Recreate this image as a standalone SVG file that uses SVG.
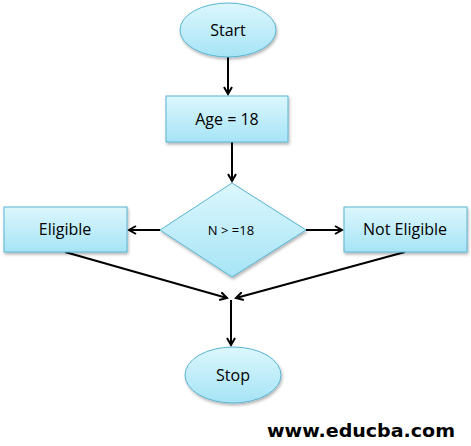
<svg xmlns="http://www.w3.org/2000/svg" width="471" height="446" viewBox="0 0 471 446">
<defs>
<linearGradient id="g" x1="0" y1="0" x2="0" y2="1">
<stop offset="0" stop-color="#dcf7fd"/>
<stop offset="1" stop-color="#a6e4f6"/>
</linearGradient>
<filter id="sh" x="-20%" y="-20%" width="140%" height="150%">
<feDropShadow dx="1" dy="2" stdDeviation="1.5" flood-color="#000" flood-opacity="0.3"/>
</filter>
<marker id="arr" markerWidth="10" markerHeight="10" refX="8" refY="5" orient="auto" markerUnits="userSpaceOnUse">
<path d="M1,1 L8,5 L1,9" fill="none" stroke="#000" stroke-width="2"/>
</marker>
</defs>
<style>
.n{fill:url(#g);stroke:#5ab4d2;stroke-width:1;filter:url(#sh)}
.t{font-family:"Open Sans","Liberation Sans",sans-serif;font-size:16px;fill:#000;text-anchor:middle;dominant-baseline:central}
.c{stroke:#000;stroke-width:2;fill:none;marker-end:url(#arr)}
</style>
<rect width="471" height="446" fill="#fff"/>
<g id="connectors">
<line class="c" x1="228" y1="57" x2="228" y2="94"/>
<line class="c" x1="232" y1="142" x2="232" y2="181"/>
<line class="c" x1="160" y1="230" x2="129" y2="230"/>
<line class="c" x1="306" y1="230" x2="342" y2="230"/>
<line class="c" x1="65" y1="252" x2="227" y2="298"/>
<line class="c" x1="405" y1="252" x2="236" y2="298"/>
<line class="c" x1="231" y1="300" x2="231" y2="345"/>
</g>
<g id="start">
<ellipse class="n" cx="228" cy="30" rx="48" ry="27"/>
<text class="t" x="228" y="30">Start</text>
</g>
<g id="age">
<rect class="n" x="166" y="96" width="122" height="46"/>
<text class="t" x="227" y="119">Age = 18</text>
</g>
<g id="decision">
<polygon class="n" points="232,183 306,230 232,277 160,230"/>
<text class="t" x="231" y="230" style="font-size:13px">N &gt; =18</text>
</g>
<g id="eligible">
<rect class="n" x="4" y="207" width="123" height="45"/>
<text class="t" x="65" y="229">Eligible</text>
</g>
<g id="noteligible">
<rect class="n" x="344" y="207" width="123" height="45"/>
<text class="t" x="405" y="229">Not Eligible</text>
</g>
<g id="stop">
<ellipse class="n" cx="233" cy="375" rx="48" ry="28"/>
<text class="t" x="233" y="375">Stop</text>
</g>
<text x="267" y="437" style="font-family:'DejaVu Sans',Verdana,sans-serif;font-weight:bold;font-size:17px" textLength="188" lengthAdjust="spacingAndGlyphs">www.educba.com</text>
</svg>
